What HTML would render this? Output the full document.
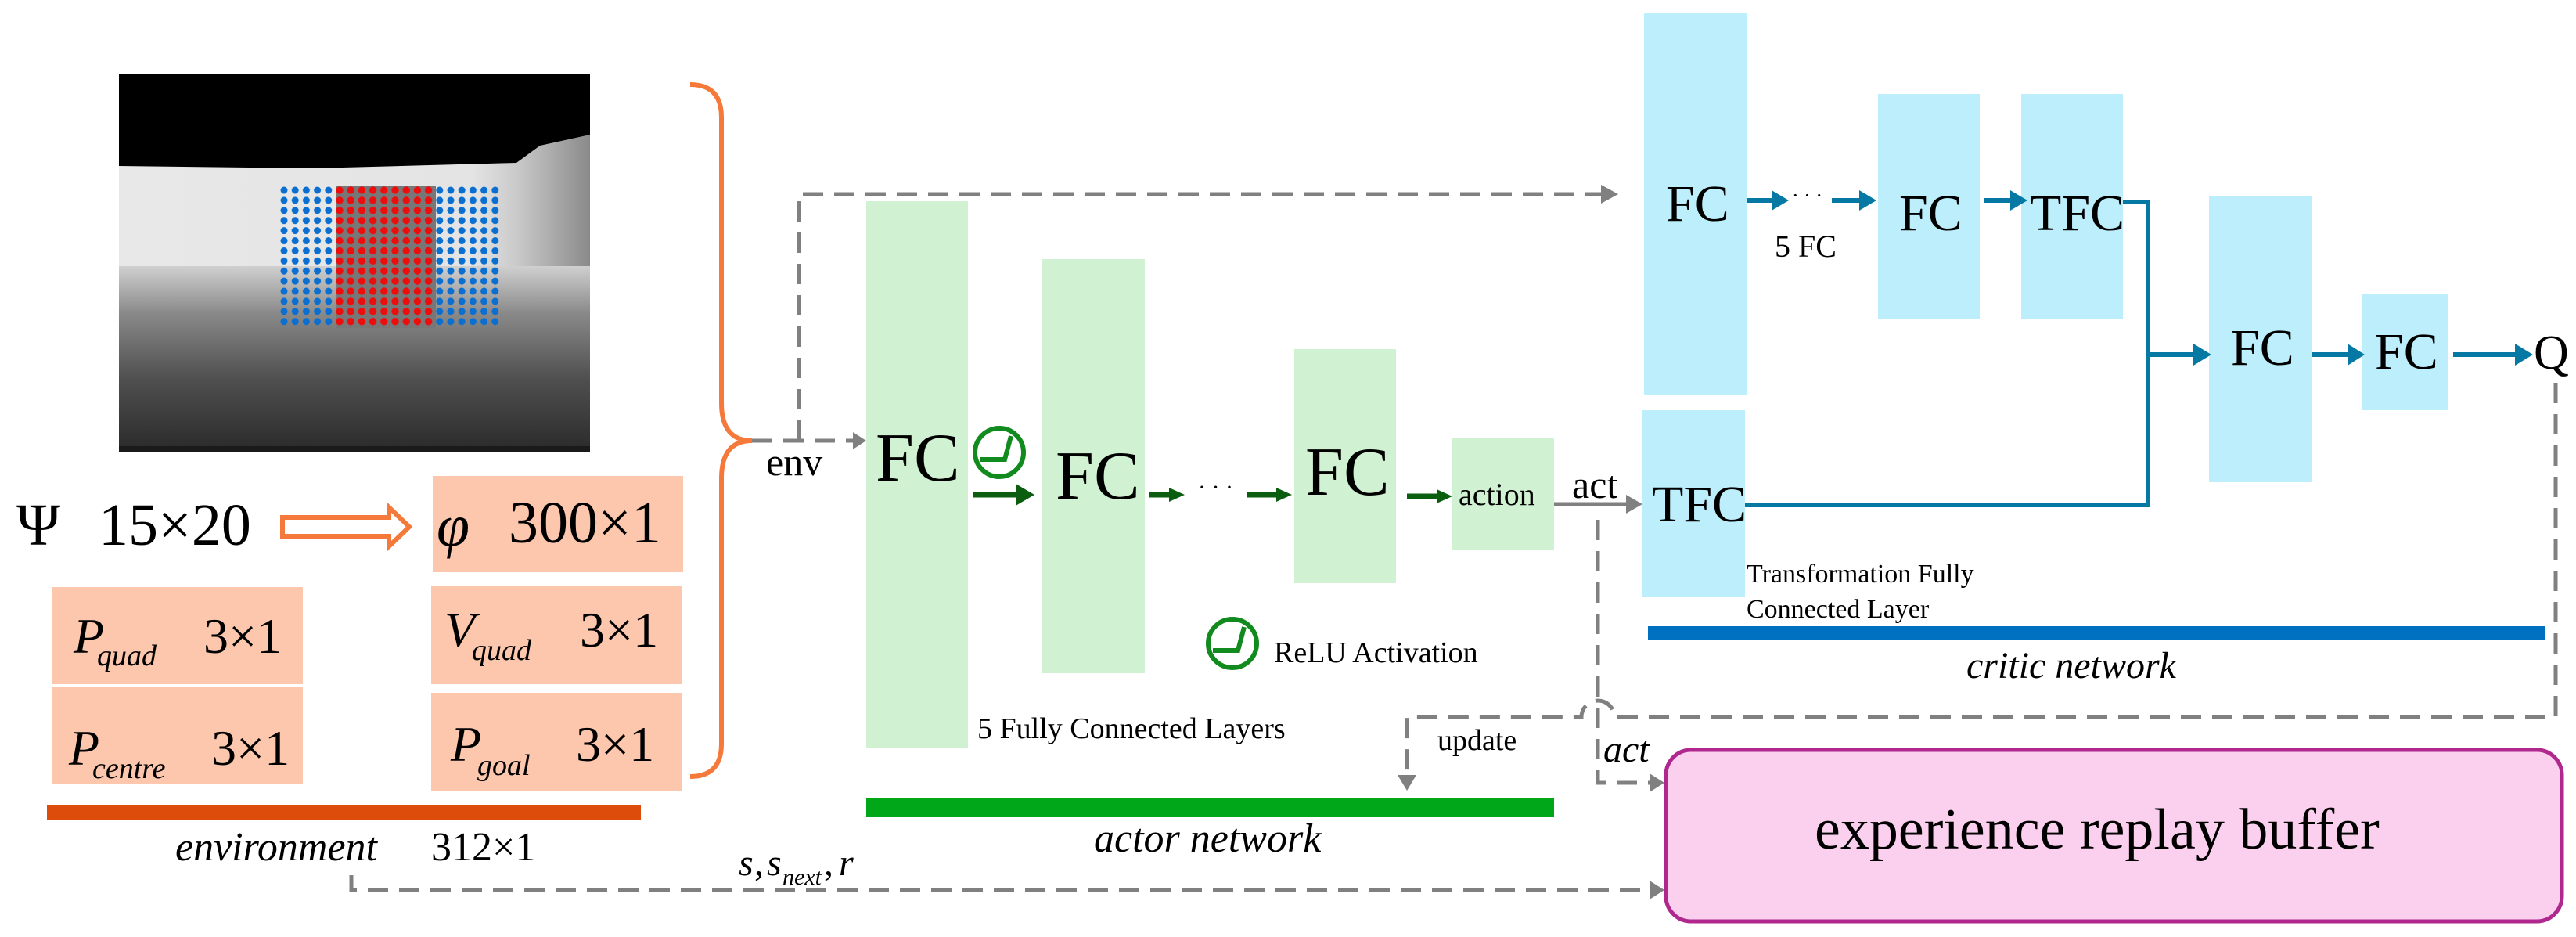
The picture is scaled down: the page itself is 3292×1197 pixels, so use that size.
<!DOCTYPE html>
<html><head><meta charset="utf-8"><style>
html,body{margin:0;padding:0;background:#fff;}
svg{display:block;font-family:"Liberation Serif","DejaVu Serif",serif;}
svg text{font-family:"Liberation Serif","DejaVu Serif",serif;fill:#000;}
</style></head><body>
<svg width="3292" height="1197" viewBox="0 0 3292 1197" xmlns="http://www.w3.org/2000/svg" font-family="Liberation Serif, DejaVu Serif, serif">
<defs>
<linearGradient id="wall" x1="0" y1="0" x2="1" y2="0">
<stop offset="0" stop-color="#e8e8e8"/><stop offset="0.75" stop-color="#e4e4e4"/><stop offset="0.85" stop-color="#c8c8c8"/><stop offset="1" stop-color="#8a8a8a"/></linearGradient>
<linearGradient id="floor" x1="0" y1="0" x2="0" y2="1">
<stop offset="0" stop-color="#d0d0d0"/><stop offset="0.25" stop-color="#8a8a8a"/><stop offset="0.6" stop-color="#505050"/><stop offset="1" stop-color="#2a2a2a"/></linearGradient>
<pattern id="bd" x="358" y="238" width="14.2" height="12.9" patternUnits="userSpaceOnUse"><circle cx="5" cy="5" r="4.5" fill="#0a6fd0"/></pattern>
<pattern id="rd" x="358" y="238" width="14.2" height="12.9" patternUnits="userSpaceOnUse"><circle cx="5" cy="5" r="4.7" fill="#ee0d0d"/></pattern>
</defs>

<rect x="152" y="94" width="602" height="484" fill="url(#wall)"/>
<rect x="152" y="340" width="602" height="238" fill="url(#floor)"/>
<rect x="152" y="570" width="602" height="8" fill="#1a1a1a"/>
<polygon points="152,94 754,94 754,172 690,186 660,208 400,215 152,212" fill="#000"/>
<rect x="358" y="238" width="284" height="181" fill="url(#bd)"/>
<rect x="429" y="238" width="128" height="181" fill="#777"/>
<rect x="429" y="238" width="128" height="181" fill="url(#rd)"/>

<text x="21" y="696" font-size="76">Ψ</text>
<text x="126" y="696" font-size="76">15×20</text>
<path d="M361,661 L497,661 L497,648 L523,673 L497,698 L497,685 L361,685z" fill="#fff" stroke="#f5793a" stroke-width="6"/>

<rect x="553" y="608" width="320" height="123" fill="#fcc7ad"/>
<text x="558" y="697" font-size="76" font-style="italic">φ</text>
<text x="650" y="693" font-size="76">300×1</text>
<rect x="66" y="750" width="321" height="124" fill="#fcc7ad"/>
<text x="94" y="834" font-size="64" font-style="italic">P</text><text x="124" y="850" font-size="38" font-style="italic">quad</text>
<text x="260" y="834" font-size="64">3×1</text>
<rect x="66" y="878" width="321" height="124" fill="#fcc7ad"/>
<text x="88" y="977" font-size="64" font-style="italic">P</text><text x="118" y="994" font-size="38" font-style="italic">centre</text>
<text x="270" y="977" font-size="64">3×1</text>
<rect x="551" y="748" width="320" height="126" fill="#fcc7ad"/>
<text x="568" y="826" font-size="64" font-style="italic">V</text><text x="603" y="843" font-size="38" font-style="italic">quad</text>
<text x="741" y="826" font-size="64">3×1</text>
<rect x="551" y="885" width="320" height="126" fill="#fcc7ad"/>
<text x="576" y="972" font-size="64" font-style="italic">P</text><text x="610" y="990" font-size="38" font-style="italic">goal</text>
<text x="736" y="972" font-size="64">3×1</text>

<rect x="60" y="1029" width="759" height="18" fill="#dd4c0a"/>
<text x="224" y="1099" font-size="52" font-style="italic">environment</text>
<text x="551" y="1099" font-size="52">312×1</text>

<path d="M882,108 Q922,108 922,150 L922,515 Q922,563 961,563 Q922,563 922,611 L922,950 Q922,992 882,992" fill="none" stroke="#f5793a" stroke-width="6"/>
<text x="979" y="607" font-size="50">env</text>

<g fill="none" stroke="#808080" stroke-width="5" stroke-dasharray="26,14">
<path d="M961,563 L1090,563"/>
<path d="M1021,563 L1021,248 L2048,248"/>
<path d="M449,1118 L449,1137 L2110,1137"/>
<path d="M2042,664 L2042,1000 L2110,1000"/>
<path d="M3266,489 L3266,916 L2063,916 A21,21 0 0 0 2021,916 L1798,916 L1798,990"/>
</g>
<g fill="#808080">
<polygon points="1090,552 1107,563 1090,574"/>
<polygon points="2046,236 2068,248 2046,260"/>
<polygon points="2108,988 2127,1000 2108,1012"/>
<polygon points="2108,1125 2127,1137 2108,1149"/>
<polygon points="1786,990 1798,1010 1810,990"/>
</g>
<path d="M1986,644 L2080,644" stroke="#808080" stroke-width="5" fill="none"/>
<polygon points="2078,632 2099,644 2078,656" fill="#808080"/>
<text x="944" y="1118" font-size="48" font-style="italic">s</text><text x="964" y="1118" font-size="48">,</text>
<text x="980" y="1118" font-size="48" font-style="italic">s</text><text x="1000" y="1130" font-size="30" font-style="italic">next</text>
<text x="1053" y="1118" font-size="48">,</text><text x="1072" y="1118" font-size="48" font-style="italic">r</text>

<rect x="1107" y="257" width="130" height="699" fill="#d0f2d2"/>
<text x="1119" y="614" font-size="88">FC</text>
<rect x="1332" y="331" width="131" height="529" fill="#d0f2d2"/>
<text x="1349" y="637" font-size="88">FC</text>
<rect x="1654" y="446" width="130" height="299" fill="#d0f2d2"/>
<text x="1668" y="632" font-size="88">FC</text>
<rect x="1856" y="560" width="130" height="142" fill="#d0f2d2"/>
<text x="1864" y="645" font-size="40">action</text>
<text x="2009" y="636" font-size="50">act</text>
<g fill="none" stroke="#0b5e0f" stroke-width="7">
<path d="M1244,632 L1300,632"/><path d="M1469,632 L1496,632"/><path d="M1593,632 L1633,632"/><path d="M1798,634 L1838,634"/>
</g>
<g fill="#0b5e0f">
<polygon points="1298,618 1322,632 1298,646"/><polygon points="1494,623 1514,632 1494,641"/>
<polygon points="1631,623 1651,632 1631,641"/><polygon points="1836,625 1856,634 1836,643"/>
</g>
<text x="1531" y="632" font-size="30">· · ·</text>
<g fill="none" stroke="#118a1e" stroke-width="6">
<circle cx="1277" cy="578" r="31"/><path d="M1252,587 L1284,587 L1292,557"/>
<circle cx="1575" cy="822" r="31"/><path d="M1550,831 L1582,831 L1590,801"/>
</g>
<text x="1628" y="846" font-size="38">ReLU Activation</text>
<text x="1249" y="943" font-size="38">5 Fully Connected Layers</text>
<text x="1837" y="958" font-size="38">update</text>
<rect x="1107" y="1019" width="879" height="25" fill="#00a819"/>
<text x="1398" y="1088" font-size="52" font-style="italic">actor network</text>
<text x="2049" y="973" font-size="48" font-style="italic">act</text>

<rect x="2101" y="17" width="131" height="487" fill="#bdeefb"/>
<text x="2129" y="282" font-size="66">FC</text>
<rect x="2400" y="120" width="130" height="287" fill="#bdeefb"/>
<text x="2427" y="294" font-size="66">FC</text>
<rect x="2583" y="120" width="130" height="287" fill="#bdeefb"/>
<text x="2594" y="294" font-size="66">TFC</text>
<rect x="2823" y="250" width="131" height="366" fill="#bdeefb"/>
<text x="2851" y="466" font-size="66">FC</text>
<rect x="3019" y="375" width="110" height="149" fill="#bdeefb"/>
<text x="3035" y="471" font-size="66">FC</text>
<rect x="2099" y="524" width="131" height="239" fill="#bdeefb"/>
<text x="2111" y="666" font-size="66">TFC</text>
<text x="3238" y="471" font-size="62">Q</text>
<text x="2268" y="328" font-size="40">5 FC</text>
<text x="2290" y="258" font-size="26">· · ·</text>
<g fill="none" stroke="#0579a3" stroke-width="6">
<path d="M2232,256 L2266,256"/><path d="M2341,256 L2378,256"/><path d="M2535,256 L2571,256"/>
<path d="M2713,258 L2745,258 L2745,645 L2230,645"/><path d="M2745,453 L2805,453"/>
<path d="M2954,453 L3002,453"/><path d="M3135,453 L3216,453"/>
</g>
<g fill="#0579a3">
<polygon points="2264,243 2286,256 2264,269"/><polygon points="2376,243 2398,256 2376,269"/>
<polygon points="2569,243 2591,256 2569,269"/><polygon points="2803,439 2826,453 2803,467"/>
<polygon points="3000,439 3022,453 3000,467"/><polygon points="3214,439 3237,453 3214,467"/>
</g>
<text x="2232" y="744" font-size="34">Transformation Fully</text>
<text x="2232" y="789" font-size="34">Connected Layer</text>
<rect x="2106" y="800" width="1146" height="18" fill="#0070c0"/>
<text x="2513" y="866" font-size="48" font-style="italic">critic network</text>

<rect x="2129" y="958" width="1145" height="219" rx="32" ry="32" fill="#fbd0ee" stroke="#b0288e" stroke-width="5"/>
<text x="2319" y="1084" font-size="74">experience replay buffer</text>
</svg>
</body></html>
